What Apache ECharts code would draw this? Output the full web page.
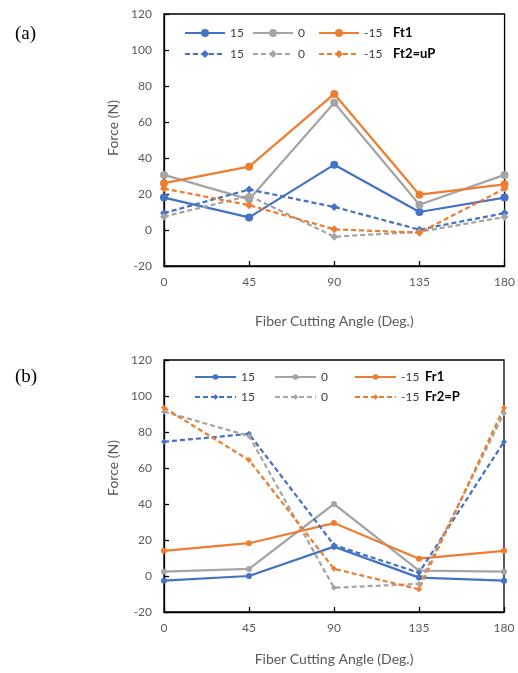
<!DOCTYPE html>
<html>
<head>
<meta charset="utf-8">
<script src="https://cdn.jsdelivr.net/npm/echarts@6/dist/echarts.min.js"></script>
<style>
  html, body { margin: 0; background: #fff; }
  #chart { width: 518px; height: 673px; }
</style>
</head>
<body>
<div id="chart"></div>
<script>
// fiber cutting angles (x axis)
const angles = [0, 45, 90, 135, 180]
const yMin = -20, yMax = 120, yStep = 20

// (a) tangential forces
const ft1_15 = [18, 7, 36.3, 10, 18]
const ft1_0 = [30.6, 17, 70.7, 14, 30.6]
const ft1_m15 = [26, 35.2, 75.6, 19.6, 25.4]
const ft2_15 = [9.4, 22.5, 12.8, 0.2, 9.4]
const ft2_0 = [7.4, 19, -3.7, -1, 7.2]
const ft2_m15 = [23, 13.8, 0.4, -1.5, 23]

// (b) radial forces
const fr1_15 = [-2.6, 0, 16.3, -0.9, -2.6]
const fr1_0 = [2.4, 3.9, 40, 3, 2.4]
const fr1_m15 = [14, 18.2, 29.4, 9.6, 14]
const fr2_15 = [74.6, 79, 17.2, 1.8, 74.6]
const fr2_0 = [91.3, 77.8, -6.5, -4.4, 90.4]
const fr2_m15 = [93.5, 64.4, 4, -7.4, 93.5]

const BLUE = '#4472C4', GRAY = '#A5A5A5', ORANGE = '#ED7D31'
const LABEL = '#595959'
const FONT = 'Lato'

function pairs(vals) {
  return angles.map((a, i) => [a, vals[i]])
}

function mkSeries(name, vals, color, dashed, idx, size) {
  return {
    name: name,
    type: 'line',
    xAxisIndex: idx,
    yAxisIndex: idx,
    data: pairs(vals),
    symbol: dashed ? 'diamond' : 'circle',
    symbolSize: size,
    showSymbol: true,
    itemStyle: { color: color },
    lineStyle: { color: color, width: 2.25, type: dashed ? [5, 3] : 'solid' },
    animation: false
  }
}

function mkLegend(name, left, top, iw, ih) {
  return {
    data: [name],
    left: left,
    top: top,
    padding: 0,
    itemWidth: iw,
    itemHeight: ih,
    itemGap: 0,
    itemTextGap: 4,
    selectedMode: false,
    formatter: n => n.split(' ')[0],
    textStyle: { fontFamily: FONT, fontSize: 12, color: '#404040', lineHeight: 14 }
  }
}

function xAx(idx, gap) {
  return {
    gridIndex: idx,
    type: 'value',
    min: 0, max: 180, interval: 45,
    name: 'Fiber Cutting Angle (Deg.)',
    nameLocation: 'middle',
    nameGap: gap,
    nameTextStyle: { fontFamily: FONT, fontSize: 14, color: LABEL },
    axisLine: { onZero: false, lineStyle: { color: '#000', width: 1.3 } },
    axisTick: { inside: true, length: 5, lineStyle: { color: '#000', width: 1.3 } },
    axisLabel: { margin: 10, fontFamily: FONT, fontSize: 12, color: LABEL },
    splitLine: { show: false }
  }
}

function yAx(idx) {
  return {
    gridIndex: idx,
    type: 'value',
    min: yMin, max: yMax, interval: yStep,
    axisLine: { show: true, onZero: false, lineStyle: { color: '#000', width: 1.3 } },
    axisTick: { show: true, inside: true, length: 5, lineStyle: { color: '#000', width: 1.3 } },
    axisLabel: { margin: 12, fontFamily: FONT, fontSize: 12, color: LABEL },
    splitLine: { show: false }
  }
}

function txt(text, x, y, opts) {
  return Object.assign({
    type: 'text', x: x, y: y,
    style: Object.assign({
      text: text, fontFamily: FONT, fontSize: 12, fill: LABEL,
      align: 'left', verticalAlign: 'middle'
    }, opts.style || {})
  }, opts.el || {})
}

const chart = echarts.init(document.getElementById('chart'))

const option = {
  backgroundColor: '#fff',
  grid: [
    { left: 164, top: 14, width: 342, height: 252, show: true, borderColor: '#000', borderWidth: 1.3 },
    { left: 164, top: 360, width: 340, height: 252, show: true, borderColor: '#000', borderWidth: 1.3 }
  ],
  xAxis: [xAx(0, 48), xAx(1, 40)],
  yAxis: [yAx(0), yAx(1)],
  legend: [
    mkLegend('15 Ft1', 184, 26, 40, 10),
    mkLegend('0 Ft1', 252, 26, 40, 10),
    mkLegend('-15 Ft1', 318, 26, 40, 10),
    mkLegend('15 Ft2', 184, 47, 40, 10),
    mkLegend('0 Ft2', 252, 47, 40, 10),
    mkLegend('-15 Ft2', 318, 47, 40, 10),
    mkLegend('15 Fr1', 194, 370, 41, 7),
    mkLegend('0 Fr1', 274, 370, 41, 7),
    mkLegend('-15 Fr1', 354, 370, 41, 7),
    mkLegend('15 Fr2', 194, 390, 41, 7),
    mkLegend('0 Fr2', 274, 390, 41, 7),
    mkLegend('-15 Fr2', 354, 390, 41, 7)
  ],
  graphic: [
    txt('(a)', 15, 34, { style: { fontFamily: 'Liberation Serif', fontSize: 19, fill: '#000' } }),
    txt('(b)', 15, 377, { style: { fontFamily: 'Liberation Serif', fontSize: 19, fill: '#000' } }),
    txt('Force (N)', 113, 128, { el: { rotation: Math.PI / 2 }, style: { align: 'center', fontSize: 14 } }),
    txt('Force (N)', 113, 468, { el: { rotation: Math.PI / 2 }, style: { align: 'center', fontSize: 14 } }),
    txt('Ft1', 393, 33, { style: { fontWeight: 'bold', fontSize: 13, fill: '#000' } }),
    txt('Ft2=uP', 393, 54, { style: { fontWeight: 'bold', fontSize: 13, fill: '#000' } }),
    txt('Fr1', 425, 377, { style: { fontWeight: 'bold', fontSize: 13, fill: '#000' } }),
    txt('Fr2=P', 425, 397, { style: { fontWeight: 'bold', fontSize: 13, fill: '#000' } })
  ],
  series: [
    mkSeries('15 Ft1', ft1_15, BLUE, false, 0, 8),
    mkSeries('0 Ft1', ft1_0, GRAY, false, 0, 8),
    mkSeries('-15 Ft1', ft1_m15, ORANGE, false, 0, 8),
    mkSeries('15 Ft2', ft2_15, BLUE, true, 0, 8),
    mkSeries('0 Ft2', ft2_0, GRAY, true, 0, 8),
    mkSeries('-15 Ft2', ft2_m15, ORANGE, true, 0, 8),
    mkSeries('15 Fr1', fr1_15, BLUE, false, 1, 6),
    mkSeries('0 Fr1', fr1_0, GRAY, false, 1, 6),
    mkSeries('-15 Fr1', fr1_m15, ORANGE, false, 1, 6),
    mkSeries('15 Fr2', fr2_15, BLUE, true, 1, 6),
    mkSeries('0 Fr2', fr2_0, GRAY, true, 1, 6),
    mkSeries('-15 Fr2', fr2_m15, ORANGE, true, 1, 6)
  ]
}

chart.setOption(option)
</script>
</body>
</html>
